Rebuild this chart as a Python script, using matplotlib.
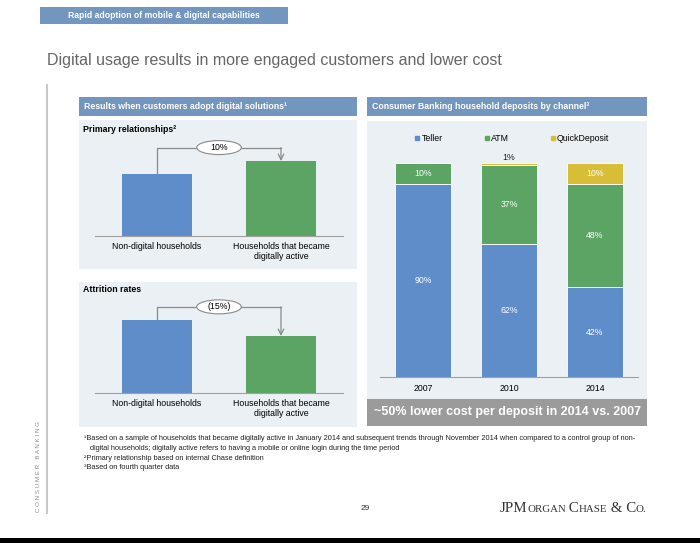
import matplotlib
matplotlib.use("Agg")
import matplotlib.pyplot as plt
from matplotlib.patches import Rectangle, Ellipse
from matplotlib.lines import Line2D

W, H = 700, 543

# ---- data ----
groups = ["Non-digital households", "Households that became\ndigitally active"]
primary_index = [100, 121]      # relative bar heights
primary_change = "10%"
attrition_index = [100, 78]
attrition_change = "(15%)"

years = ["2007", "2010", "2014"]
teller = [90, 62, 42]
atm = [10, 37, 48]
quick = [0, 1, 10]
channels = ["Teller", "ATM", "QuickDeposit"]

footnotes = [
    "\u00b9Based on a sample of households that became digitally active in January 2014 and subsequent trends through November 2014 when compared to a control group of non-",
    "   digital households; digitally active refers to having a mobile or online login during the time period",
    "\u00b2Primary relationship based on internal Chase definition",
    "\u00b3Based on fourth quarter data",
]

BLUE = "#5F8DC9"
GREEN = "#5BA463"
YELLOW = "#D8BE37"
HDR = "#7396BF"
PANEL = "#EAF0F4"
GREY = "#9B9B9B"

plt.rcParams['font.family'] = ['Liberation Sans', 'DejaVu Sans']

fig = plt.figure(figsize=(W / 100, H / 100), dpi=100)
bg = fig.add_axes([0, 0, 1, 1])
bg.set_xlim(0, W)
bg.set_ylim(H, 0)
bg.axis('off')


def px_axes(x0, y0, x1, y1):
    return fig.add_axes([x0 / W, 1 - y1 / H, (x1 - x0) / W, (y1 - y0) / H])


def box(x, y, w, h, color):
    bg.add_patch(Rectangle((x, y), w, h, facecolor=color, edgecolor='none'))


# top header + title
box(40, 7, 248, 17, HDR)
bg.text(164, 15.5, "Rapid adoption of mobile & digital capabilities", color='white',
        fontsize=6.2, fontweight='bold', ha='center', va='center')
bg.text(47, 61, "Digital usage results in more engaged customers and lower cost",
        color='#666666', fontsize=11.5, ha='left', va='center')

# side rule + vertical label
bg.plot([47, 47], [85, 513], color='#C8C8C8', lw=1.5)
bg.text(38, 466, "C O N S U M E R   B A N K I N G", rotation=90, fontsize=4.4,
        color='#8C8C8C', ha='center', va='center')

# panels
box(79, 97, 278, 19, HDR)
bg.text(84, 106.5, "Results when customers adopt digital solutions\u00b9", color='white',
        fontsize=6.3, fontweight='bold', ha='left', va='center')
box(79, 120, 278, 149, PANEL)
box(79, 282, 278, 145, PANEL)
bg.text(83, 130, "Primary relationships\u00b2", fontsize=6.3, fontweight='bold', va='center')
bg.text(83, 290, "Attrition rates", fontsize=6.3, fontweight='bold', va='center')

box(367, 97, 280, 19, HDR)
bg.text(372, 106.5, "Consumer Banking household deposits by channel\u00b3", color='white',
        fontsize=6.3, fontweight='bold', ha='left', va='center')
box(367, 121, 280, 278, PANEL)
box(367, 399, 280, 27, GREY)
bg.text(507, 412.5, "~50% lower cost per deposit in 2014 vs. 2007", color='white',
        fontsize=9, fontweight='bold', ha='center', va='center')


def compare_chart(y_top, y_base, vals, ymax, change):
    ax = px_axes(95, y_top, 343, y_base)
    ax.set_facecolor('none')
    ax.set_xlim(-0.5, 1.5)
    ax.set_ylim(0, ymax)
    ax.bar([0, 1], vals, width=0.56, color=[BLUE, GREEN])
    for s in ['top', 'left', 'right']:
        ax.spines[s].set_visible(False)
    ax.spines['bottom'].set_color('#A0A0A0')
    ax.set_yticks([])
    ax.set_xticks([0, 1], groups, fontsize=6.3)
    ax.tick_params(axis='x', length=0, pad=4)
    b = max(vals) * 1.18
    ax.plot([0, 0, 1], [vals[0], b, b], color='#8A8A8A', lw=0.9, clip_on=False)
    ax.annotate("", xy=(1, vals[1]), xytext=(1, b),
                arrowprops=dict(arrowstyle='->', color='#8A8A8A', lw=0.9,
                                shrinkA=0, shrinkB=0))
    ppu = (y_base - y_top) / ymax
    ax.add_patch(Ellipse((0.5, b), 0.36, 14 / ppu, facecolor='white',
                         edgecolor='#8A8A8A', lw=0.8, clip_on=False, zorder=3))
    ax.text(0.5, b, change, fontsize=6.3, ha='center', va='center', zorder=4)
    return ax


compare_chart(140, 236, primary_index, 155, primary_change)
compare_chart(297, 393, attrition_index, 131.5, attrition_change)

# stacked deposits chart
ax = px_axes(380, 135, 638, 377)
ax.set_facecolor('none')
ax.set_xlim(-0.5, 2.5)
ax.set_ylim(0, 113)
x = range(len(years))
bottom2 = [t + a for t, a in zip(teller, atm)]
ax.bar(x, teller, width=0.66, color=BLUE, edgecolor='white', lw=0.6)
ax.bar(x, atm, width=0.66, bottom=teller, color=GREEN, edgecolor='white', lw=0.6)
ax.bar(x, quick, width=0.66, bottom=bottom2, color=YELLOW, edgecolor='white', lw=0.6)
for i in x:
    segs = [(teller[i], 0), (atm[i], teller[i]), (quick[i], bottom2[i])]
    for v, b0 in segs:
        if v >= 5:
            ax.text(i, b0 + v / 2, f"{v}%", color='white', fontsize=6.3,
                    ha='center', va='center')
        elif v > 0:
            ax.text(i, b0 + v + 0.2, f"{v}%", color='#222222', fontsize=6.3,
                    ha='center', va='bottom')
for s in ['top', 'left', 'right']:
    ax.spines[s].set_visible(False)
ax.spines['bottom'].set_color('#A0A0A0')
ax.set_yticks([])
ax.set_xticks(list(x), years, fontsize=6.3)
ax.tick_params(axis='x', length=0, pad=5)
handles = [Line2D([], [], marker='s', ls='', color=c, markersize=2.5)
           for c in [BLUE, GREEN, YELLOW]]
ax.legend(handles, channels, ncol=3, loc='upper center', bbox_to_anchor=(0.51, 1.035),
          frameon=False, fontsize=6.3, handletextpad=0.1, columnspacing=4.6,
          handlelength=0.8)

# footnotes
for i, line in enumerate(footnotes):
    bg.text(84, 439 + i * 9.5, line, fontsize=5.3, color='#222222', va='center')

# page number + logo
bg.text(365, 508, "29", fontsize=6, color='#333333', ha='center', va='center')
logo = [("JPM", 10.8), ("ORGAN", 7.8), (" C", 10.8), ("HASE", 7.8), (" & C", 10.8), ("O.", 7.8)]
fig.canvas.draw()
r = fig.canvas.get_renderer()
xpos = 500
for txt, fs in logo:
    t = bg.text(xpos, 512, txt, fontsize=fs, family='Liberation Serif',
                color='#333333', ha='left', va='baseline')
    bb = t.get_window_extent(renderer=r)
    xpos += bb.width - 0.5

# bottom black band
box(0, 538, W, 5, 'black')

fig.savefig("out.png", dpi=100)
